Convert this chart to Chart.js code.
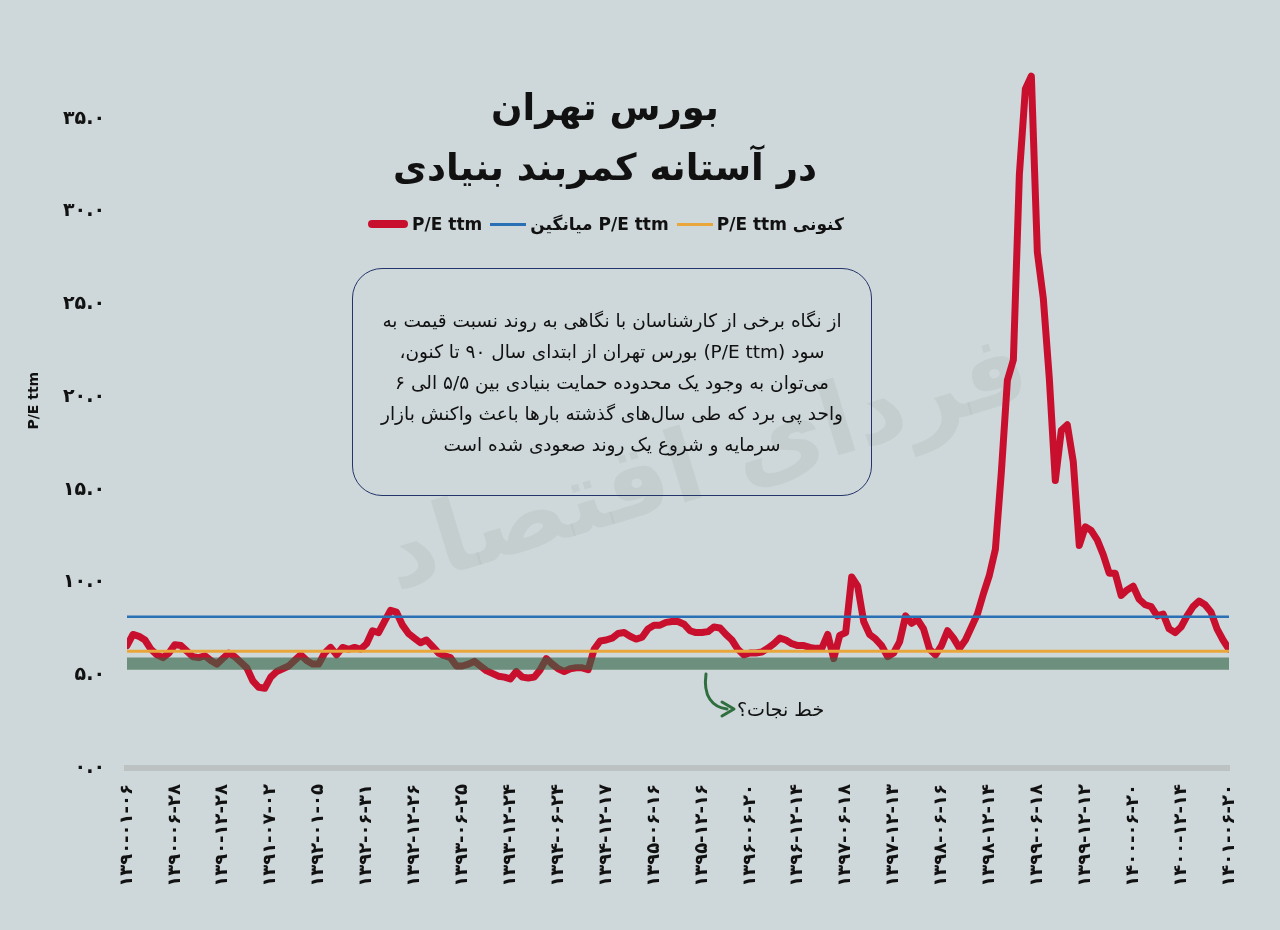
<!DOCTYPE html>
<html>
<head>
<meta charset="utf-8">
<title>بورس تهران</title>
<script src="https://cdn.jsdelivr.net/npm/chart.js@4.4.1/dist/chart.umd.min.js"></script>
<style>
  body { margin: 0; background: #ced7d9; }
  #quadro { position: relative; width: 1280px; height: 930px; overflow: hidden; font-family: 'DejaVu Sans', sans-serif; color: #111; }
  #marca { position: absolute; left: 705px; top: 460px; transform: translate(-50%, -50%) rotate(-17deg); font-size: 100px; font-weight: bold; color: rgba(175,184,187,0.3); white-space: nowrap; direction: rtl; }
  canvas { position: absolute; left: 0; top: 0; }
  #titulo { position: absolute; left: 0; width: 1210px; top: 78px; text-align: center; font-weight: bold; font-size: 37px; line-height: 60px; direction: rtl; }
  #legenda { position: absolute; left: 0; width: 1212px; top: 214px; display: flex; justify-content: center; align-items: center; gap: 8px; font-weight: bold; font-size: 17px; }
  #legenda .item { display: flex; align-items: center; gap: 4px; }
  #legenda .traco { display: inline-block; width: 36px; height: 3px; }
  #caixa { position: absolute; left: 352px; top: 268px; width: 520px; height: 228px; box-sizing: border-box; border: 1.5px solid #24356b; border-radius: 30px; text-align: center; direction: rtl; font-size: 18.5px; line-height: 31px; padding-top: 36px; }
  #nota { position: absolute; left: 737px; top: 698px; font-size: 19px; direction: rtl; }
  #seta { position: absolute; left: 0; top: 0; }
</style>
</head>
<body>
<div id="quadro">
  <div id="marca">فردای اقتصاد</div>
  <canvas id="grafico" width="1280" height="930"></canvas>
  <div id="titulo">بورس تهران<br>در آستانه کمربند بنیادی</div>
  <div id="legenda"></div>
  <div id="caixa">از نگاه برخی از کارشناسان با نگاهی به روند نسبت قیمت به<br>سود (P/E ttm) بورس تهران از ابتدای سال ۹۰ تا کنون،<br>می‌توان به وجود یک محدوده حمایت بنیادی بین ۵/۵ الی ۶<br>واحد پی برد که طی سال‌های گذشته بارها باعث واکنش بازار<br>سرمایه و شروع یک روند صعودی شده است</div>
  <div id="nota">خط نجات؟</div>
  <svg id="seta" width="1280" height="930">
    <path d="M706 674 C 703 696, 712 707, 727 709" fill="none" stroke="#2f6e3e" stroke-width="3" stroke-linecap="round"/>
    <path d="M722 702 L734 709 L722 716" fill="none" stroke="#2f6e3e" stroke-width="3" stroke-linecap="round" stroke-linejoin="round"/>
  </svg>
</div>
<script>
// rótulos do eixo x (datas do calendário persa, a cada ~6 meses)
const rotulosX = [
  '۱۳۹۰-۰۱-۰۶', '۱۳۹۰-۰۶-۲۸', '۱۳۹۰-۱۲-۲۸', '۱۳۹۱-۰۷-۰۲', '۱۳۹۲-۰۱-۰۵', '۱۳۹۲-۰۶-۳۱',
  '۱۳۹۲-۱۲-۲۶', '۱۳۹۳-۰۶-۲۵', '۱۳۹۳-۱۲-۲۴', '۱۳۹۴-۰۶-۲۴', '۱۳۹۴-۱۲-۱۷', '۱۳۹۵-۰۶-۱۶',
  '۱۳۹۵-۱۲-۱۶', '۱۳۹۶-۰۶-۲۰', '۱۳۹۶-۱۲-۱۴', '۱۳۹۷-۰۶-۱۸', '۱۳۹۷-۱۲-۱۳', '۱۳۹۸-۰۶-۱۶',
  '۱۳۹۸-۱۲-۱۴', '۱۳۹۹-۰۶-۱۸', '۱۳۹۹-۱۲-۱۲', '۱۴۰۰-۰۶-۲۰', '۱۴۰۰-۱۲-۱۴', '۱۴۰۱-۰۶-۲۰'
];

// pontos lidos entre dois rótulos consecutivos
const pontosPorTrecho = 8;

// P/E ttm (uma linha por trecho entre rótulos)
const peTtm = [
  6.6, 7.2, 7.1, 6.9, 6.4, 6.1, 5.95, 6.2,
  6.65, 6.6, 6.3, 6.0, 5.95, 6.05, 5.8, 5.6,
  5.9, 6.2, 6.0, 5.7, 5.4, 4.7, 4.35, 4.3,
  4.9, 5.2, 5.35, 5.5, 5.8, 6.1, 5.8, 5.6,
  5.6, 6.2, 6.5, 6.1, 6.5, 6.4, 6.5, 6.4,
  6.7, 7.4, 7.3, 7.9, 8.5, 8.4, 7.7, 7.25,
  7.0, 6.75, 6.9, 6.55, 6.2, 6.05, 5.95, 5.5,
  5.5, 5.6, 5.75, 5.5, 5.25, 5.1, 4.95, 4.9,
  4.8, 5.2, 4.9, 4.85, 4.9, 5.3, 5.9, 5.6,
  5.35, 5.2, 5.35, 5.4, 5.4, 5.3, 6.4, 6.85,
  6.9, 7.0, 7.25, 7.3, 7.1, 6.95, 7.05, 7.5,
  7.7, 7.7, 7.85, 7.9, 7.9, 7.75, 7.4, 7.3,
  7.3, 7.35, 7.6, 7.55, 7.2, 6.9, 6.4, 6.1,
  6.2, 6.2, 6.25, 6.45, 6.7, 7.0, 6.9, 6.7,
  6.6, 6.6, 6.5, 6.45, 6.45, 7.2, 5.9, 7.15,
  7.3, 10.3, 9.8, 7.9, 7.2, 6.95, 6.6, 6.0,
  6.2, 6.8, 8.2, 7.8, 8.0, 7.5, 6.4, 6.1,
  6.6, 7.4, 7.0, 6.45, 6.9, 7.6, 8.3, 9.4,
  10.4, 11.8, 16.0, 20.9, 22.0, 32.0, 36.6, 37.3,
  27.8, 25.3, 21.0, 15.5, 18.2, 18.5, 16.5, 12.0,
  13.0, 12.8, 12.3, 11.5, 10.5, 10.5, 9.3, 9.6,
  9.8, 9.1, 8.8, 8.7, 8.2, 8.3, 7.5, 7.3,
  7.6, 8.2, 8.7, 9.0, 8.8, 8.4, 7.5, 6.9,
  6.4
];

// linhas de referência
const peMedia = 8.15;   // میانگین P/E ttm
const peAtual = 6.3;    // P/E ttm کنونی
const faixaSuporte = [5.3, 5.95]; // خط نجات

// legenda
const nomesSeries = ['P/E ttm', 'میانگین P/E ttm', 'P/E ttm کنونی'];
const coresSeries = ['#c8102e', '#2a70b5', '#e9a73b'];

const fa = s => String(s).replace(/\d/g, d => '۰۱۲۳۴۵۶۷۸۹'[d]);
const fonte = "'DejaVu Sans', sans-serif";
const ultimo = rotulosX.length - 1;
const reta = v => [{ x: 0, y: v }, { x: ultimo, y: v }];

// monta a legenda
const legenda = document.getElementById('legenda');
nomesSeries.forEach((nome, i) => {
    const item = document.createElement('span');
    item.className = 'item';
    const traco = document.createElement('span');
    traco.className = 'traco';
    traco.style.background = coresSeries[i];
    if (i === 0) { traco.style.height = '8px'; traco.style.borderRadius = '4px'; traco.style.width = '40px'; }
    const texto = document.createElement('span');
    texto.textContent = nome;
    item.appendChild(traco);
    item.appendChild(texto);
    legenda.appendChild(item);
});

new Chart(document.getElementById('grafico'), {
    type: 'line',
    data: {
        datasets: [
            { data: reta(faixaSuporte[1]), fill: '+1', backgroundColor: 'rgba(50,100,70,0.62)', borderWidth: 0, pointRadius: 0 },
            { data: reta(faixaSuporte[0]), borderWidth: 0, pointRadius: 0, fill: false },
            { data: reta(peAtual), borderColor: coresSeries[2], borderWidth: 3, pointRadius: 0, fill: false },
            { data: reta(peMedia), borderColor: coresSeries[1], borderWidth: 2.5, pointRadius: 0, fill: false },
            {
                data: peTtm.map((v, i) => ({ x: i / pontosPorTrecho, y: v })),
                borderColor: coresSeries[0], borderWidth: 7, pointRadius: 0, fill: false,
                borderJoinStyle: 'round', borderCapStyle: 'round', tension: 0
            }
        ]
    },
    options: {
        responsive: false,
        animation: false,
        layout: { padding: { top: 13, right: 51, left: 0, bottom: 0 } },
        plugins: { legend: { display: false }, tooltip: { enabled: false } },
        scales: {
            x: {
                type: 'linear', min: 0, max: ultimo,
                grid: { display: false, drawTicks: false },
                border: { display: true, width: 6, color: '#bcc1c2' },
                ticks: {
                    stepSize: 1, autoSkip: false, minRotation: 90, maxRotation: 90, padding: 16,
                    color: '#111', font: { family: fonte, size: 18, weight: 'bold' },
                    callback: v => rotulosX[Math.round(v)] ?? null
                },
                afterFit: s => { s.height = 162; }
            },
            y: {
                min: 0, max: 39.6,
                grid: { display: false, drawTicks: false },
                border: { display: false },
                ticks: {
                    stepSize: 5, padding: 22, color: '#111',
                    font: { family: fonte, size: 19, weight: 'bold' },
                    callback: v => (v % 5 === 0) ? fa(v.toFixed(1)) : null
                },
                title: {
                    display: true, text: 'P/E ttm', color: '#111',
                    font: { family: fonte, size: 14, weight: 'bold' },
                    padding: { top: 26, bottom: 4 }
                },
                afterFit: s => { s.width = 127; }
            }
        }
    }
});
</script>
</body>
</html>
